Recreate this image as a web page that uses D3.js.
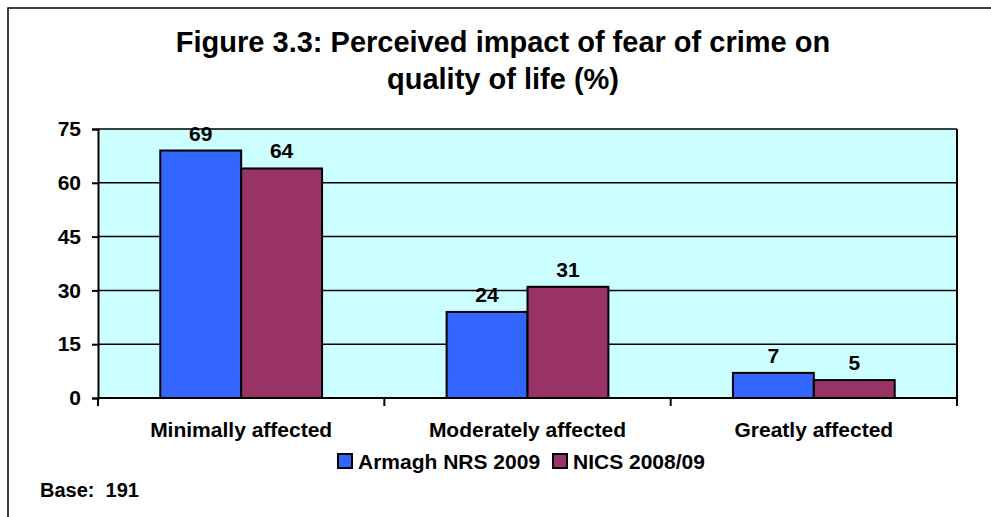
<!DOCTYPE html>
<html>
<head>
<meta charset="utf-8">
<script src="https://cdn.jsdelivr.net/npm/d3@7"></script>
<style>
  body { margin: 0; background: #fff; }
  svg { display: block; font-family: Arial, "Liberation Sans", sans-serif; font-weight: bold; }
</style>
</head>
<body>
<svg id="chart" width="991" height="517"></svg>
<script>
// chart data
const categories = ['Minimally affected', 'Moderately affected', 'Greatly affected'];
const seriesNames = ['Armagh NRS 2009', 'NICS 2008/09'];
const armagh = [69, 24, 7];
const nics = [64, 31, 5];
const yTicks = [0, 15, 30, 45, 60, 75];
const titleLines = ['Figure 3.3: Perceived impact of fear of crime on', 'quality of life (%)'];
const baseNote = 'Base:  191';

const colors = ['#3366FF', '#993366'];

const svg = d3.select('#chart');
const W = 991, H = 517;
const plot = { left: 98, right: 957, top: 129, bottom: 398 };

// outer frame (only top and left edges show in the picture)
svg.append('path')
    .attr('d', `M8,${H} L8,8 L${W},8`)
    .attr('fill', 'none')
    .attr('stroke', '#000')
    .attr('stroke-width', 1.5);

// title
svg.append('g')
    .selectAll('text')
    .data(titleLines)
    .enter()
    .append('text')
    .attr('x', 503)
    .attr('y', (d, i) => 52 + i * 37)
    .attr('text-anchor', 'middle')
    .attr('font-size', 29)
    .text(d => d);

const x0 = d3.scaleBand()
    .domain(categories)
    .range([plot.left, plot.right])
    .padding(0);

const x1 = d3.scaleBand()
    .domain(seriesNames)
    .range([0, x0.bandwidth()])
    .paddingInner(0)
    .paddingOuter(0.77);

const y = d3.scaleLinear()
    .domain([0, 75])
    .range([plot.bottom, plot.top]);

// plot background
svg.append('rect')
    .attr('x', plot.left)
    .attr('y', plot.top)
    .attr('width', plot.right - plot.left)
    .attr('height', plot.bottom - plot.top)
    .attr('fill', '#CCFFFF');

// gridlines
svg.append('g')
    .selectAll('line')
    .data(yTicks.filter(d => d > 0))
    .enter()
    .append('line')
    .attr('x1', plot.left)
    .attr('x2', plot.right)
    .attr('y1', d => y(d))
    .attr('y2', d => y(d))
    .attr('stroke', '#000')
    .attr('stroke-width', 1.5);

// right edge of plot
svg.append('line')
    .attr('x1', plot.right).attr('x2', plot.right)
    .attr('y1', plot.top).attr('y2', plot.bottom)
    .attr('stroke', '#000')
    .attr('stroke-width', 2);

// bars
const rows = categories.map((c, i) => ({ cat: c, values: [armagh[i], nics[i]] }));

const groups = svg.append('g')
    .selectAll('g')
    .data(rows)
    .enter()
    .append('g')
    .attr('transform', d => `translate(${x0(d.cat)},0)`);

groups.selectAll('rect')
    .data(d => d.values.map((v, j) => ({ name: seriesNames[j], value: v, j })))
    .enter()
    .append('rect')
    .attr('x', d => x1(d.name))
    .attr('y', d => y(d.value))
    .attr('width', x1.bandwidth())
    .attr('height', d => y(0) - y(d.value))
    .attr('fill', d => colors[d.j])
    .attr('stroke', '#000')
    .attr('stroke-width', 2);

groups.selectAll('text')
    .data(d => d.values.map((v, j) => ({ name: seriesNames[j], value: v })))
    .enter()
    .append('text')
    .attr('x', d => x1(d.name) + x1.bandwidth() / 2)
    .attr('y', d => y(d.value) - 10)
    .attr('text-anchor', 'middle')
    .attr('font-size', 21)
    .text(d => d.value);

// y axis
const yAxis = svg.append('g')
    .attr('transform', `translate(${plot.left},0)`)
    .call(d3.axisLeft(y).tickValues(yTicks).tickSize(6).tickPadding(11));
yAxis.selectAll('line, path').attr('stroke', '#000').attr('stroke-width', 2);
yAxis.selectAll('text').attr('font-size', 21).attr('font-family', 'Arial, "Liberation Sans", sans-serif').attr('font-weight', 'bold').attr('fill', '#000');

// x axis with ticks between categories
const xAxis = svg.append('g')
    .attr('transform', `translate(0,${plot.bottom})`);
xAxis.append('line')
    .attr('x1', plot.left).attr('x2', plot.right)
    .attr('stroke', '#000').attr('stroke-width', 2);
const bounds = categories.map(c => x0(c)).concat([plot.right]);
xAxis.selectAll('line.tick')
    .data(bounds)
    .enter()
    .append('line')
    .attr('class', 'tick')
    .attr('x1', d => d).attr('x2', d => d)
    .attr('y1', 0).attr('y2', 8)
    .attr('stroke', '#000').attr('stroke-width', 2);
xAxis.selectAll('text')
    .data(categories)
    .enter()
    .append('text')
    .attr('x', d => x0(d) + x0.bandwidth() / 2)
    .attr('y', 39)
    .attr('text-anchor', 'middle')
    .attr('font-size', 21)
    .text(d => d);

// legend
const legend = svg.append('g').attr('transform', 'translate(338,469)');
const legendX = [0, 215];
seriesNames.forEach((name, i) => {
    legend.append('rect')
        .attr('x', legendX[i])
        .attr('y', -15)
        .attr('width', 14)
        .attr('height', 14)
        .attr('fill', colors[i])
        .attr('stroke', '#000')
        .attr('stroke-width', 2);
    legend.append('text')
        .attr('x', legendX[i] + 20)
        .attr('y', 0)
        .attr('font-size', 21)
        .text(name);
});

// base note
svg.append('text')
    .attr('x', 40)
    .attr('y', 497)
    .attr('font-size', 20)
    .style('white-space', 'pre')
    .text(baseNote);
</script>
</body>
</html>
